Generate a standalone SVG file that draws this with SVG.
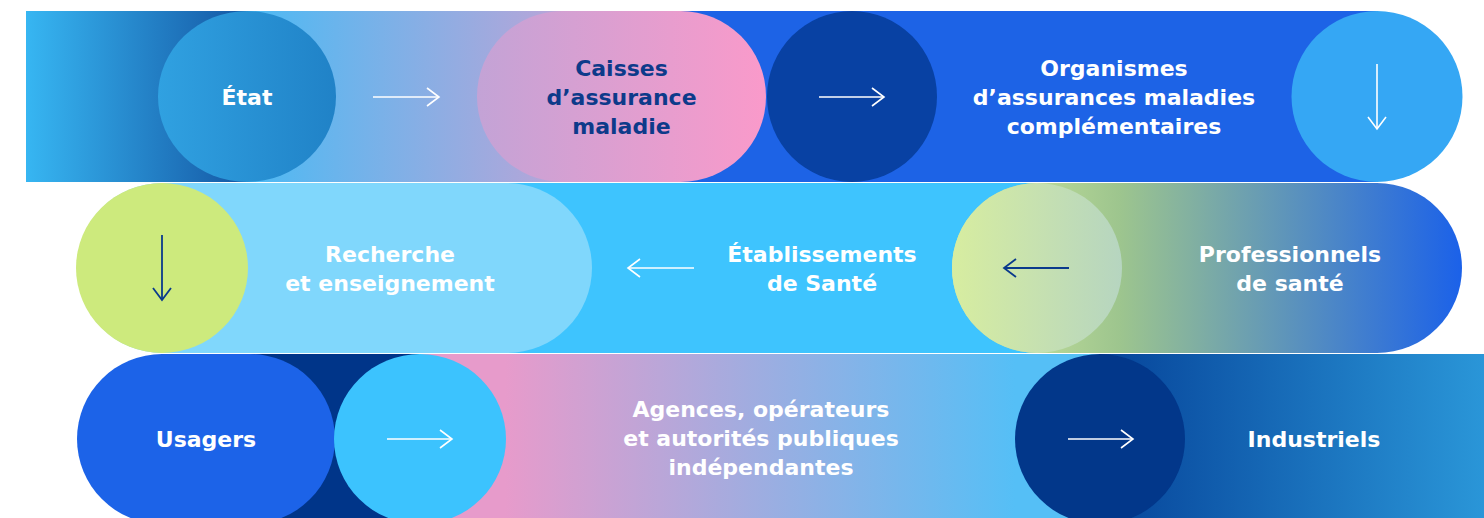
<svg xmlns="http://www.w3.org/2000/svg" width="1484" height="518" viewBox="0 0 1484 518">
<defs>
<style>
.t{font-family:"DejaVu Sans","Liberation Sans",sans-serif;font-weight:700;font-size:22px;text-anchor:middle;fill:#ffffff}
.tn{fill:#0D3A8A}
.aw{fill:none;stroke:#ffffff;stroke-width:1.6}
.an{fill:none;stroke:#0A3A8C;stroke-width:1.8}
</style>
<linearGradient id="g1a" gradientUnits="userSpaceOnUse" x1="26" y1="0" x2="247" y2="0"><stop offset="0" stop-color="#37B6F2"/><stop offset="1" stop-color="#1457A4"/></linearGradient>
<linearGradient id="g1b" gradientUnits="userSpaceOnUse" x1="247" y1="0" x2="560" y2="0"><stop offset="0" stop-color="#4BBAF4"/><stop offset="1" stop-color="#B8A5D8"/></linearGradient>
<linearGradient id="gEtat" gradientUnits="userSpaceOnUse" x1="158" y1="0" x2="336" y2="0"><stop offset="0" stop-color="#30A1E1"/><stop offset="1" stop-color="#2082C7"/></linearGradient>
<linearGradient id="gCai" gradientUnits="userSpaceOnUse" x1="477" y1="0" x2="766" y2="0"><stop offset="0" stop-color="#C3A3D6"/><stop offset="1" stop-color="#FA9ACA"/></linearGradient>
<linearGradient id="gPro" gradientUnits="userSpaceOnUse" x1="952" y1="0" x2="1462" y2="0"><stop offset="0" stop-color="#D7EDA0"/><stop offset="0.33" stop-color="#9DC58E"/><stop offset="1" stop-color="#1B61E9"/></linearGradient>
<linearGradient id="gBeige" gradientUnits="userSpaceOnUse" x1="952" y1="0" x2="1122" y2="0"><stop offset="0" stop-color="#D7EDA0"/><stop offset="1" stop-color="#B6D5C0"/></linearGradient>
<linearGradient id="g3a" gradientUnits="userSpaceOnUse" x1="505" y1="0" x2="1015" y2="0"><stop offset="0" stop-color="#E79BCB"/><stop offset="1" stop-color="#55BFF6"/></linearGradient>
<linearGradient id="g3b" gradientUnits="userSpaceOnUse" x1="1100" y1="0" x2="1484" y2="0"><stop offset="0" stop-color="#06449A"/><stop offset="1" stop-color="#2A96D8"/></linearGradient>
<marker id="mw" viewBox="-14 -11 16 22" markerWidth="16" markerHeight="22" refX="0" refY="0" orient="auto" markerUnits="userSpaceOnUse"><path d="M-12,-9 L0,0 L-12,9" fill="none" stroke="#ffffff" stroke-width="1.6"/></marker>
<marker id="mn" viewBox="-14 -11 16 22" markerWidth="16" markerHeight="22" refX="0" refY="0" orient="auto" markerUnits="userSpaceOnUse"><path d="M-12,-9 L0,0 L-12,9" fill="none" stroke="#0A3A8C" stroke-width="1.8"/></marker>
</defs>

<g id="bands">
<rect x="26" y="11" width="222" height="171" fill="url(#g1a)"/>
<rect x="247" y="11" width="375" height="171" fill="url(#g1b)"/>
<rect x="621" y="11" width="757" height="171" fill="#1D63E6"/>
<rect x="162" y="183" width="876" height="170" fill="#3EC4FE"/>
<rect x="206" y="354" width="215" height="170" fill="#003589"/>
<rect x="420" y="354" width="681" height="170" fill="url(#g3a)"/>
<rect x="1100" y="354" width="384" height="170" fill="url(#g3b)"/>
</g>

<g id="node-etat">
<ellipse cx="247" cy="96.5" rx="89" ry="85.5" fill="url(#gEtat)"/>
<text class="t" x="247" y="105">État</text>
</g>
<g id="node-caisses">
<rect x="477" y="11" width="289" height="171" rx="85.5" ry="85.5" fill="url(#gCai)"/>
<text class="t tn" x="621.5" y="76">Caisses</text>
<text class="t tn" x="621.5" y="105">d’assurance</text>
<text class="t tn" x="621.5" y="134">maladie</text>
</g>
<g id="circle-r1-dark">
<ellipse cx="852" cy="96.5" rx="85" ry="85.5" fill="#0841A3"/>
</g>
<g id="node-organismes">
<text class="t" x="1114" y="76">Organismes</text>
<text class="t" x="1114" y="105">d’assurances maladies</text>
<text class="t" x="1114" y="134">complémentaires</text>
</g>
<g id="circle-r1-right">
<ellipse cx="1377" cy="96.5" rx="85.5" ry="85.5" fill="#35A7F4"/>
</g>

<g id="node-recherche">
<rect x="77" y="183" width="515" height="170" rx="85" ry="85" fill="#80D7FC"/>
<text class="t" x="390" y="262">Recherche</text>
<text class="t" x="390" y="291">et enseignement</text>
</g>
<g id="circle-r2-green">
<ellipse cx="162" cy="268" rx="86" ry="85" fill="#CDEA7D"/>
</g>
<g id="node-etablissements">
<text class="t" x="822" y="262">Établissements</text>
<text class="t" x="822" y="291">de Santé</text>
</g>
<g id="node-professionnels">
<rect x="952" y="183" width="510" height="170" rx="85" ry="85" fill="url(#gPro)"/>
<ellipse cx="1037" cy="268" rx="85" ry="85" fill="url(#gBeige)"/>
<text class="t" x="1290" y="262">Professionnels</text>
<text class="t" x="1290" y="291">de santé</text>
</g>

<g id="node-usagers">
<rect x="77" y="354" width="258" height="170" rx="85" ry="85" fill="#1C63E8"/>
<text class="t" x="206" y="447">Usagers</text>
</g>
<g id="circle-r3-cyan">
<ellipse cx="420" cy="439" rx="86" ry="85" fill="#3CC3FE"/>
</g>
<g id="node-agences">
<text class="t" x="761" y="417">Agences, opérateurs</text>
<text class="t" x="761" y="446">et autorités publiques</text>
<text class="t" x="761" y="475">indépendantes</text>
</g>
<g id="circle-r3-dark">
<ellipse cx="1100" cy="439" rx="85" ry="85" fill="#02378A"/>
</g>
<g id="node-industriels">
<text class="t" x="1314" y="447">Industriels</text>
</g>

<g id="connectors">
<path class="aw" d="M373,97 H439" marker-end="url(#mw)"/>
<path class="aw" d="M819,97 H884" marker-end="url(#mw)"/>
<path class="aw" d="M1377,64 V129" marker-end="url(#mw)"/>
<path class="an" d="M162,235 V300" marker-end="url(#mn)"/>
<path class="aw" d="M694,268 H628" marker-end="url(#mw)"/>
<path class="an" d="M1069,268 H1004" marker-end="url(#mn)"/>
<path class="aw" d="M387,439 H452" marker-end="url(#mw)"/>
<path class="aw" d="M1068,439 H1133" marker-end="url(#mw)"/>
</g>
</svg>
